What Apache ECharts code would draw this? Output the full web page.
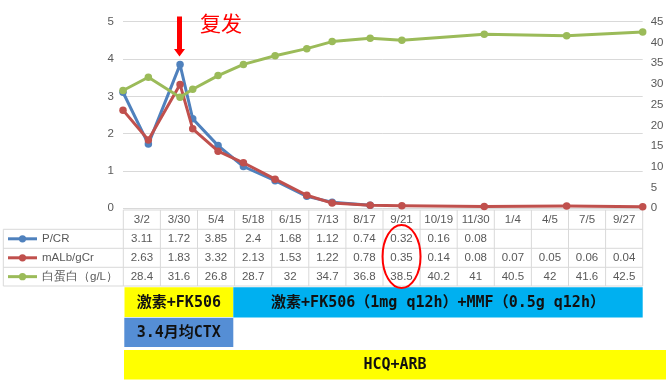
<!DOCTYPE html>
<html>
<head>
<meta charset="utf-8">
<script src="https://cdn.jsdelivr.net/npm/echarts@6/dist/echarts.min.js"></script>
<style>
html,body{margin:0;padding:0;background:#fff;}
#c{width:669px;height:383px;}
</style>
</head>
<body>
<div id="c"></div>
<script>
// ---- data ----
const dates = ['2017-03-02','2017-03-30','2017-05-04','2017-05-18','2017-06-15','2017-07-13','2017-08-17','2017-09-21','2017-10-19','2017-11-30','2018-01-04','2018-04-05','2018-07-05','2018-09-27'];
const dateLabels = ['3/2','3/30','5/4','5/18','6/15','7/13','8/17','9/21','10/19','11/30','1/4','4/5','7/5','9/27'];
const seriesNames = ['P/CR','mALb/gCr','白蛋白（g/L）'];
const pcr  = [3.11,1.72,3.85,2.4,1.68,1.12,0.74,0.32,0.16,0.08,null,null,null,null];
const malb = [2.63,1.83,3.32,2.13,1.53,1.22,0.78,0.35,0.14,0.08,0.07,0.05,0.06,0.04];
const alb  = [28.4,31.6,26.8,28.7,32,34.7,36.8,38.5,40.2,41,40.5,42,41.6,42.5];
const leftTicks = [0,1,2,3,4,5];
const rightTicks = [0,5,10,15,20,25,30,35,40,45];
const highlightLabel = '9/21';
const relapseText = '复发';
const bars = [
  {text:'激素+FK506', color:'#FFFF00'},
  {text:'激素+FK506（1mg q12h）+MMF（0.5g q12h）', color:'#00B0F0'},
  {text:'3.4月均CTX', color:'#558ED5'},
  {text:'HCQ+ARB', color:'#FFFF00'}
];

// ---- styling ----
const colors = ['#4F81BD','#C0504D','#9BBB59'];
const txtColor = '#595959';
const border = '#D9D9D9';
const fontFam = '"Liberation Sans", Arial, sans-serif';
const barFont = '"DejaVu Sans Mono", "Noto Sans CJK SC", monospace';

function pairs(vals){
  const out=[];
  vals.forEach((v,i)=>{ if(v!==null && v!==undefined) out.push([dates[i], v]); });
  return out;
}

// ---- table layout ----
const n = dateLabels.length;
const tL = 123.3, tR = 642.7, colW = (tR - tL)/n;
const rowY = [210, 229.3, 248.3, 267.3, 286];
const legL = 3.3;
const g = [];
function hline(x1,x2,y){ g.push({type:'line', silent:true, shape:{x1:x1,y1:y,x2:x2,y2:y}, style:{stroke:border,lineWidth:1}}); }
function vline(x,y1,y2){ g.push({type:'line', silent:true, shape:{x1:x,y1:y1,x2:x,y2:y2}, style:{stroke:border,lineWidth:1}}); }
function txt(t,x,y,opt){
  g.push({type:'text', silent:true, z:10, style:Object.assign({text:t,x:x,y:y,fill:txtColor,fontSize:11.5,fontFamily:fontFam,align:'center',verticalAlign:'middle'},opt||{})});
}
hline(tL,tR,rowY[0]);
for(let r=1;r<rowY.length;r++) hline(legL,tR,rowY[r]);
vline(legL,rowY[1],rowY[4]);
for(let i=0;i<=n;i++) vline(tL+i*colW,rowY[0],rowY[4]);
dateLabels.forEach((d,i)=>txt(d,tL+(i+0.5)*colW,(rowY[0]+rowY[1])/2));
[pcr,malb,alb].forEach((arr,r)=>{
  const cy=(rowY[r+1]+rowY[r+2])/2;
  arr.forEach((v,i)=>{ if(v!==null) txt(String(v),tL+(i+0.5)*colW,cy); });
  g.push({type:'line',silent:true,z:10,shape:{x1:8,y1:cy,x2:37,y2:cy},style:{stroke:colors[r],lineWidth:3}});
  g.push({type:'circle',silent:true,z:11,shape:{cx:22.5,cy:cy,r:3.6},style:{fill:colors[r]}});
  txt(seriesNames[r],42,cy,{align:'left'});
});
// red ellipse around highlighted column
const hi = dateLabels.indexOf(highlightLabel);
g.push({type:'ellipse',silent:true,z:20,shape:{cx:tL+(hi+0.5)*colW,cy:256.5,rx:19,ry:31.5},style:{fill:'none',stroke:'#FF0000',lineWidth:2}});

// treatment bars
const barRects = [
  {x:124.5,y:287.3,w:233.3-124.5,h:29.7},
  {x:233.3,y:287.3,w:642.7-233.3,h:30.2},
  {x:124.3,y:317.7,w:233.3-124.3,h:29.3},
  {x:124,y:350,w:666-124,h:29.5}
];
bars.forEach((b,i)=>{
  const r=barRects[i];
  g.push({type:'rect',silent:true,shape:{x:r.x,y:r.y,width:r.w,height:r.h},style:{fill:b.color}});
  g.push({type:'text',silent:true,z:10,style:{text:b.text,x:r.x+r.w/2,y:r.y+r.h/2+0.5,fill:'#111',fontSize:15,fontWeight:'bold',fontFamily:barFont,align:'center',verticalAlign:'middle'}});
});

// relapse annotation
g.push({type:'polygon',silent:true,z:30,shape:{points:[[177,16.5],[182,16.5],[182,49],[185,49],[179.5,56.5],[174,49],[177,49]]},style:{fill:'#FF0000'}});
g.push({type:'text',silent:true,z:30,style:{text:relapseText,x:221,y:23,fill:'#FF0000',fontSize:21,fontFamily:'"Noto Sans CJK SC", sans-serif',align:'center',verticalAlign:'middle'}});

const chart = echarts.init(document.getElementById('c'), null, {renderer:'canvas'});
chart.setOption({
  animation:false,
  backgroundColor:'#fff',
  grid:{left:123, right:26.3, top:21.7, bottom:174.7, containLabel:false},
  xAxis:{type:'time', min:dates[0], max:dates[dates.length-1], show:false},
  yAxis:[
    {type:'value', min:leftTicks[0], max:leftTicks[leftTicks.length-1], interval:leftTicks[1]-leftTicks[0],
     axisLine:{show:false}, axisTick:{show:false},
     axisLabel:{color:txtColor, fontSize:11.5, fontFamily:fontFam, margin:9},
     splitLine:{show:true, lineStyle:{color:border, width:1}}},
    {type:'value', position:'right', min:rightTicks[0], max:rightTicks[rightTicks.length-1], interval:rightTicks[1]-rightTicks[0],
     axisLine:{show:false}, axisTick:{show:false},
     axisLabel:{color:txtColor, fontSize:11.5, fontFamily:fontFam, margin:8},
     splitLine:{show:false}}
  ],
  series:[
    {name:seriesNames[0], type:'line', yAxisIndex:0, data:pairs(pcr), symbol:'circle', symbolSize:7.5, z:2,
     lineStyle:{color:colors[0], width:3, join:'round'}, itemStyle:{color:colors[0]}},
    {name:seriesNames[1], type:'line', yAxisIndex:0, data:pairs(malb), symbol:'circle', symbolSize:7.5, z:3,
     lineStyle:{color:colors[1], width:3, join:'round'}, itemStyle:{color:colors[1]}},
    {name:seriesNames[2], type:'line', yAxisIndex:1, data:pairs(alb), symbol:'circle', symbolSize:7.5, z:4,
     lineStyle:{color:colors[2], width:3, join:'round'}, itemStyle:{color:colors[2]}}
  ],
  graphic:g
});
</script>
</body>
</html>
